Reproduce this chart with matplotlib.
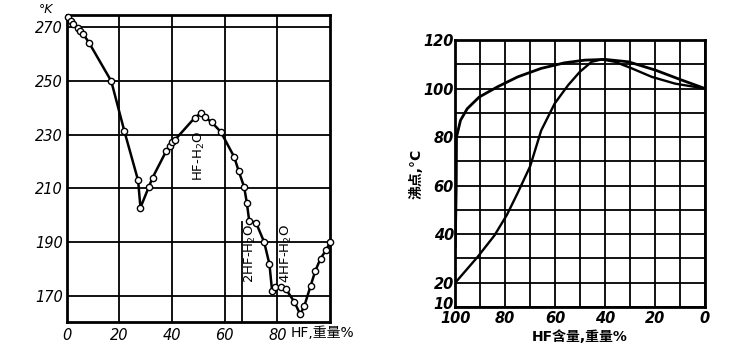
import matplotlib.pyplot as plt
import matplotlib.transforms as mtransforms

# diagramme de fusion HF-H2O (gauche)
hf_fusion = [0.6, 1.6, 2.5, 4.3, 5.1, 6.3, 8.6, 16.9, 21.9, 27.1, 28.0, 31.1, 32.6, 37.8, 39.1,
             39.8, 41.0, 48.7, 50.9, 52.4, 55.1, 58.5, 63.6, 65.3, 67.4, 68.4, 69.3, 71.9, 75.0,
             77.0, 78.0, 79.1, 81.4, 83.3, 86.5, 88.7, 90.3, 92.6, 94.4, 96.4, 98.6, 100.0]
t_fusion = [273.7, 271.9, 271.0, 269.4, 268.5, 267.2, 263.8, 249.8, 231.2, 213.0, 202.9, 210.4,
            214.0, 223.9, 225.8, 227.2, 227.9, 236.3, 237.8, 236.5, 234.5, 231.0, 221.7, 216.5,
            210.5, 204.7, 198.1, 197.3, 190.1, 181.9, 172.0, 173.5, 173.5, 172.6, 167.9, 163.3,
            166.6, 173.8, 179.4, 184.0, 187.3, 190.0]
xticks_g = [0, 20, 40, 60, 80]
yticks_g = [170, 190, 210, 230, 250, 270]

# diagramme d'ebullition (droite)
hf_vapeur = [100, 99.6, 99.5, 97.9, 95.2, 90.4, 83.1, 75.0, 65.6, 56.2, 48.1, 40.0, 30.6, 19.9, 9.1, 0]
t_vapeur = [35, 60, 80, 86.9, 91.7, 96.5, 100.7, 104.8, 108.3, 110.6, 111.7, 112.0, 111.0, 107.6, 103.4, 100]
hf_liquide = [100, 91.0, 84.3, 79.3, 75.0, 70.0, 65.6, 60.2, 54.8, 50.1, 45.4, 41.4, 36.0, 29.3, 21.3, 11.9, 0]
t_liquide = [20, 30.7, 39.5, 48.0, 57.0, 68.0, 82.7, 93.8, 101.4, 106.9, 111.0, 112.0, 111.0, 108.3, 104.8, 102.0, 100]
xticks_d = [100, 80, 60, 40, 20, 0]
yticks_d = [10, 20, 40, 60, 80, 100, 120]

fam = ['DejaVu Sans', 'Noto Sans CJK SC']
plt.rcParams['font.family'] = fam

fig = plt.figure(figsize=(7.5, 3.57), dpi=100)

# ---- gauche
ax1 = fig.add_axes([0.089, 0.098, 0.351, 0.860])
ax1.set_xlim(0, 100)
ax1.set_ylim(160.5, 274.3)
for g in xticks_g:
    ax1.axvline(g, color='black', lw=1.3)
for g in yticks_g:
    ax1.axhline(g, color='black', lw=1.3)
ax1.plot([66.7, 66.7], [160.5, 197.4], color='black', lw=1.3)
ax1.plot(hf_fusion, t_fusion, color='black', lw=1.8, marker='o', ms=4.5,
         mfc='white', mec='black', mew=1.0, clip_on=False, zorder=3)
ax1.set_xticks(xticks_g)
ax1.set_yticks(yticks_g)
ax1.set_xticklabels([str(v) for v in xticks_g], fontstyle='italic', fontsize=10.5)
ax1.set_yticklabels([str(v) for v in yticks_g], fontstyle='italic', fontsize=10.5)
ax1.tick_params(axis='y', length=0, pad=3)
ax1.tick_params(axis='x', length=0, pad=4)
for s in ax1.spines.values():
    s.set_linewidth(2)
ax1.text(-8, 276.3, '°K', fontsize=9, fontstyle='italic', ha='center', va='center')
ax1.text(85, 156.4, 'HF,重量%', fontsize=10, ha='left', va='center')
ax1.text(50.3, 222, 'HF-H$_2$O', rotation=90, fontsize=9.5, ha='center', va='center')
ax1.text(69.6, 186, '2HF-H$_2$O', rotation=90, fontsize=9.5, ha='center', va='center')
ax1.text(83.5, 186, '4HF-H$_2$O', rotation=90, fontsize=9.5, ha='center', va='center')

# ---- droite
ax2 = fig.add_axes([0.607, 0.140, 0.333, 0.748])
ax2.set_xlim(100, 0)
ax2.set_ylim(10, 120)
for g in range(0, 101, 10):
    ax2.axvline(g, color='black', lw=1.3)
for g in range(10, 121, 10):
    ax2.axhline(g, color='black', lw=1.3)
ax2.plot(hf_vapeur, t_vapeur, color='black', lw=2.0, zorder=3)
ax2.plot(hf_liquide, t_liquide, color='black', lw=1.7, zorder=3)
ax2.set_xticks(xticks_d)
ax2.set_yticks(yticks_d)
ax2.set_xticklabels([str(v) for v in xticks_d], fontstyle='italic', fontsize=10.5, fontweight='bold')
ax2.set_yticklabels([str(v) for v in yticks_d], fontstyle='italic', fontsize=10.5, fontweight='bold')
ax2.tick_params(axis='y', length=0, pad=1)
ax2.tick_params(axis='x', length=0, pad=3)
# le "10" est un peu remonte pour ne pas toucher le "100"
lab10 = ax2.get_yticklabels()[0]
lab10.set_transform(lab10.get_transform() + mtransforms.ScaledTranslation(0, 3 / 72, fig.dpi_scale_trans))
for s in ax2.spines.values():
    s.set_linewidth(2)
ax2.set_xlabel('HF含量,重量%', fontsize=10, fontweight='bold', labelpad=3)
ax2.set_ylabel('沸点,°C', fontsize=10, fontweight='bold', labelpad=0)

fig.savefig('out.png', dpi=100)
